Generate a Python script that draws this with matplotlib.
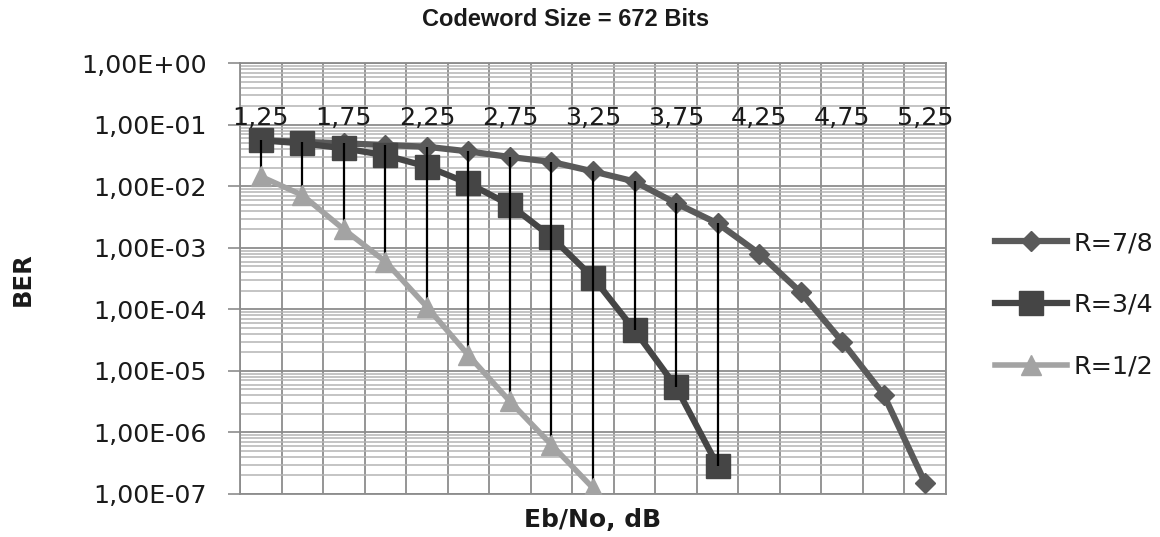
import numpy as np
import matplotlib
matplotlib.use("Agg")
import matplotlib.pyplot as plt
from matplotlib.ticker import FixedLocator, NullFormatter

# ---- data ----
ebno_labels = ["1,25", "1,5", "1,75", "2", "2,25", "2,5", "2,75", "3", "3,25",
               "3,5", "3,75", "4", "4,25", "4,5", "4,75", "5", "5,25"]
ber_r78 = [5.6e-2, 5.3e-2, 5.0e-2, 4.7e-2, 4.4e-2, 3.7e-2, 3.0e-2, 2.5e-2, 1.75e-2,
           1.2e-2, 5.3e-3, 2.5e-3, 8.1e-4, 1.9e-4, 3.0e-5, 4.1e-6, 1.5e-7]
ber_r34 = [5.6e-2, 5.0e-2, 4.15e-2, 3.2e-2, 2.1e-2, 1.12e-2, 5.0e-3, 1.5e-3, 3.3e-4,
           4.6e-5, 5.5e-6, 2.9e-7]
ber_r12 = [1.45e-2, 7.2e-3, 2.0e-3, 6.0e-4, 1.1e-4, 1.8e-5, 3.2e-6, 6.3e-7, 1.25e-7]
series_names = ["R=7/8", "R=3/4", "R=1/2"]
ytick_values = [1e0, 1e-1, 1e-2, 1e-3, 1e-4, 1e-5, 1e-6, 1e-7]
ytick_labels = ["1,00E+00", "1,00E-01", "1,00E-02", "1,00E-03", "1,00E-04",
                "1,00E-05", "1,00E-06", "1,00E-07"]
title_text = "Codeword Size = 672 Bits"
xlabel_text = "Eb/No, dB"
ylabel_text = "BER"

plt.rcParams['font.family'] = ['DejaVu Sans']

W, H = 1160, 537
fig = plt.figure(figsize=(W / 100, H / 100), dpi=100)
ax = fig.add_axes([240 / W, 1 - 494 / H, (946 - 240) / W, (494 - 63.3) / H])

ax.set_yscale('log')
ax.set_ylim(1e-7, 1e0)
n_cat = len(ebno_labels)
ax.set_xlim(-0.5, n_cat - 0.5)

# gridlines
ax.xaxis.set_major_locator(FixedLocator(np.arange(-0.5, n_cat, 1.0)))
ax.xaxis.set_major_formatter(NullFormatter())
ax.tick_params(axis='x', which='both', length=0)
ax.grid(True, axis='x', which='major', color='#8c8c8c', lw=1.3, zorder=0)

ax.yaxis.set_major_locator(FixedLocator(ytick_values))
ax.set_yticklabels(ytick_labels)
minor = [m * 10.0 ** e for e in range(-7, 0) for m in range(2, 10)]
ax.yaxis.set_minor_locator(FixedLocator(minor))
ax.yaxis.set_minor_formatter(NullFormatter())
ax.grid(True, axis='y', which='major', color='#8c8c8c', lw=1.3, zorder=0)
ax.grid(True, axis='y', which='minor', color='#b4b4b4', lw=1.1, zorder=0)
ax.tick_params(axis='y', which='major', length=8.6, width=1.2, color='#8c8c8c',
               pad=15.5, labelsize=18.3, labelcolor='#1a1a1a')
ax.tick_params(axis='y', which='minor', length=0)
ax.set_axisbelow(True)
for s in ax.spines.values():
    s.set_color('#8c8c8c')
    s.set_linewidth(1.3)

x78 = np.arange(len(ber_r78))
x34 = np.arange(len(ber_r34))
x12 = np.arange(len(ber_r12))

ax.plot(x78, ber_r78, color='#5a5a5a', lw=4.5, marker='D', ms=10.5,
        label=series_names[0], zorder=3)
ax.plot(x34, ber_r34, color='#454545', lw=4.5, marker='s', ms=17,
        label=series_names[1], zorder=4)

# high-low lines
all_series = [ber_r78, ber_r34, ber_r12]
hl_x, hl_lo, hl_hi = [], [], []
for i in range(n_cat):
    vals = [s[i] for s in all_series if i < len(s)]
    if len(vals) >= 2:
        hl_x.append(i)
        hl_lo.append(min(vals))
        hl_hi.append(max(vals))
ax.vlines(hl_x, hl_lo, hl_hi, color='black', lw=1.6, zorder=5)

ax.plot(x12, ber_r12, color='#a3a3a3', lw=4.0, marker='^', ms=15,
        label=series_names[2], zorder=6)

# category labels (every other), drawn inside at the top
xt = ax.get_xaxis_transform()
for i in range(0, n_cat, 2):
    ax.text(i, 0.873, ebno_labels[i], transform=xt, ha='center', va='center',
            fontsize=18.3, color='#1a1a1a', zorder=7)

ax.set_xlabel(xlabel_text, fontsize=18, fontweight='bold', color='#1a1a1a')
ax.xaxis.set_label_coords(0.5, -0.06)
ax.xaxis.label.set_va('center')
ax.set_ylabel(ylabel_text, fontsize=17.5, fontweight='bold', color='#1a1a1a')
ax.yaxis.set_label_coords((23 - 240) / 706, 0.5)
ax.yaxis.label.set_va('center')

fig.text(565.5 / W, 1 - 20 / H, title_text, ha='center', va='center',
         fontsize=17, fontweight='bold', family='Liberation Sans', color='#1a1a1a')

leg = ax.legend(loc='center left', bbox_to_anchor=((995 - 240) / 706, (494 - 305) / 430.7),
                frameon=False, fontsize=18.3, handlelength=2.82, handletextpad=0.25,
                labelspacing=1.48, borderpad=0, borderaxespad=0)
for t in leg.get_texts():
    t.set_color('#1a1a1a')

fig.savefig("out.png", dpi=100)
